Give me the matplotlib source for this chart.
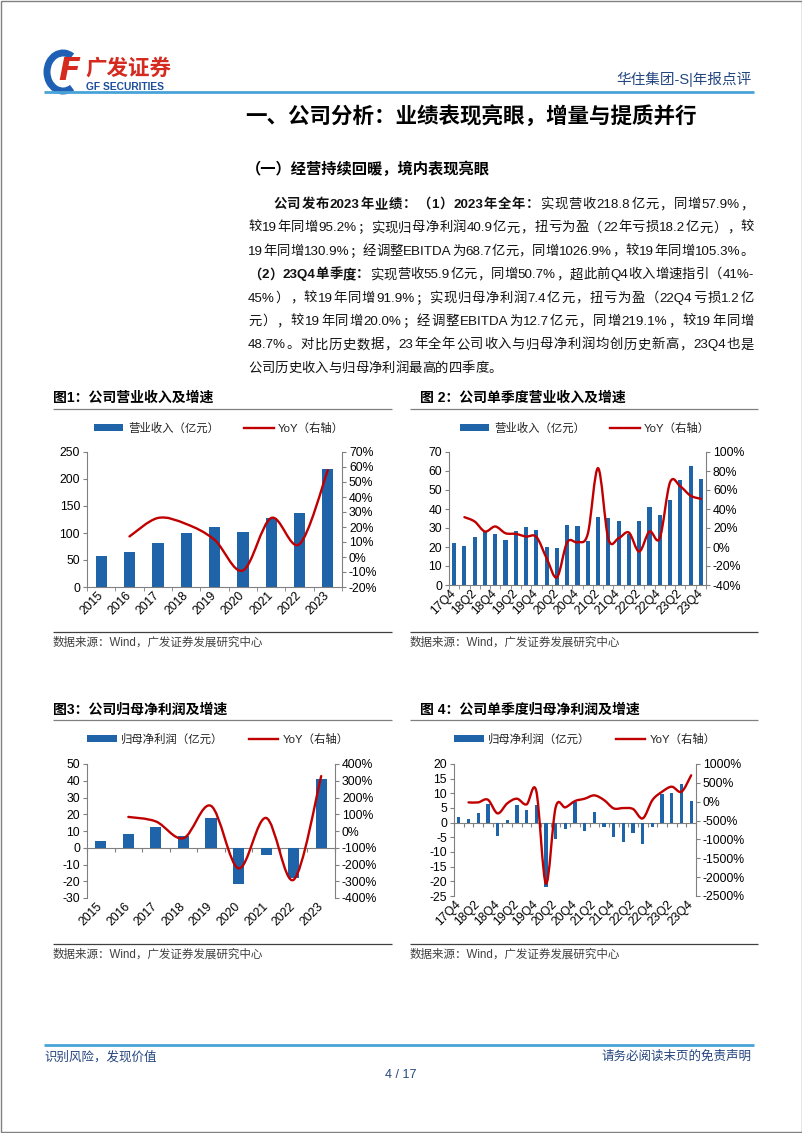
import re
import numpy as np
import matplotlib
matplotlib.use('Agg')
import matplotlib.pyplot as plt
from matplotlib.patches import Patch, PathPatch, Arc, Rectangle
from matplotlib.lines import Line2D
from matplotlib.path import Path

plt.rcParams['font.family'] = ['Liberation Sans', 'Noto Sans CJK SC', 'DejaVu Sans']
plt.rcParams['axes.unicode_minus'] = False

W, H = 802, 1133
BLUE = '#1f63a8'
RED = '#c00000'
GRAY = '#808080'
NAVY = '#24467f'
LINE_BLUE = '#4aa3d8'

# ---------------- data ----------------
years = ['2015', '2016', '2017', '2018', '2019', '2020', '2021', '2022', '2023']
revenue = [57.7, 65.1, 81.3, 99.9, 111.7, 101.1, 127.8, 137.7, 218.8]          # 亿元
revenue_yoy = [np.nan, 13.7, 26.0, 22.0, 11.5, -9.0, 26.0, 8.6, 57.9]          # %
profit = [4.3, 8.1, 12.4, 7.2, 17.5, -21.6, -4.3, -18.2, 40.9]                 # 亿元
profit_yoy = [np.nan, 84, 57, -43, 150, -223, 78, -291, 328]                   # %

quarters = ['17Q4', '18Q1', '18Q2', '18Q3', '18Q4', '19Q1', '19Q2', '19Q3', '19Q4',
            '20Q1', '20Q2', '20Q3', '20Q4', '21Q1', '21Q2', '21Q3', '21Q4',
            '22Q1', '22Q2', '22Q3', '22Q4', '23Q1', '23Q2', '23Q3', '23Q4']
q_revenue = [22.0, 20.7, 25.1, 27.8, 26.7, 23.7, 28.5, 30.4, 29.0, 20.2, 19.7, 31.5, 30.8,
             23.4, 35.9, 35.3, 33.6, 27.0, 33.6, 40.8, 36.9, 44.6, 55.4, 62.7, 55.9]
q_revenue_yoy = [np.nan, 31.4, 26.8, 16.3, 21.6, 14.5, 13.8, 11.0, 10.6, -11.9, -31.9, 5.0, 5.0,
                 13.8, 83.0, 8.5, 9.2, 15.2, -4.8, 16.3, 9.2, 68.0, 63.8, 54.0, 50.7]
q_profit = [2.0, 1.1, 3.2, 6.5, -4.4, 0.9, 6.0, 4.2, 6.0, -21.8, -5.7, -2.3, 6.9,
            -2.7, 3.75, -1.6, -4.8, -6.5, -3.6, -7.4, -1.4, 9.8, 10.0, 13.2, 7.4]
q_profit_yoy = [np.nan, -18, -18, 53, -309, -44, 80, -71, 283, -2173, -150, -150, 18,
                80, 168, 44, -177, -168, -194, -442, 44, 265, 398, 265, 700]

para_lines = [
    [('公司发布2023年业绩：（1）2023年全年：', True), ('实现营收218.8亿元，同增57.9%，', False)],
    [('较19年同增95.2%；实现归母净利润40.9亿元，扭亏为盈（22年亏损18.2亿元），较', False)],
    [('19年同增130.9%；经调整EBITDA为68.7亿元，同增1026.9%，较19年同增105.3%。', False)],
    [('（2）23Q4单季度：', True), ('实现营收55.9亿元，同增50.7%，超此前Q4收入增速指引（41%-', False)],
    [('45%），较19年同增91.9%；实现归母净利润7.4亿元，扭亏为盈（22Q4亏损1.2亿', False)],
    [('元），较19年同增20.0%；经调整EBITDA为12.7亿元，同增219.1%，较19年同增', False)],
    [('48.7%。对比历史数据，23年全年公司收入与归母净利润均创历史新高，23Q4也是', False)],
    [('公司历史收入与归母净利润最高的四季度。', False)],
]

fig = plt.figure(figsize=(W / 100, H / 100), dpi=100)
page = fig.add_axes([0, 0, 1, 1], zorder=0)
page.set_xlim(0, W)
page.set_ylim(H, 0)
page.axis('off')
renderer = fig.canvas.get_renderer()


def hline(x0, x1, y, color, lw):
    page.plot([x0, x1], [y, y], color=color, lw=lw, solid_capstyle='butt')


def draw_line(x0, x1, y, runs, size, justify=True):
    # lay out token by token so that the line fills x0..x1 like Word's justify
    toks = []
    for s, bold in runs:
        for t in re.findall(r'[\x00-\x7f]+|.', s):
            toks.append((t, bold))
    arts, widths = [], []
    for t, bold in toks:
        a = page.text(0, y, t, fontsize=size, fontweight='bold' if bold else 'normal',
                      va='baseline', ha='left', color='#111111')
        arts.append(a)
        widths.append(a.get_window_extent(renderer).width)
    gap = (x1 - x0 - sum(widths)) / (len(toks) - 1) if justify else 0
    x = x0
    for a, w in zip(arts, widths):
        a.set_x(x)
        x += w + gap


def smooth_path(xs, ys):
    # excel style smoothed line (cubic bezier through the points)
    p = np.array([(x, y) for x, y in zip(xs, ys) if not np.isnan(y)], float)
    verts, codes = [p[0]], [Path.MOVETO]
    n = len(p)
    for i in range(n - 1):
        p0 = p[i - 1] if i > 0 else p[i]
        p3 = p[i + 2] if i + 2 < n else p[i + 1]
        verts += [p[i] + (p[i + 1] - p0) / 6, p[i + 1] - (p3 - p[i]) / 6, p[i + 1]]
        codes += [Path.CURVE4] * 3
    return Path(verts, codes)


def combo_chart(rect, cats, bars, yoy, bar_name, ylim, ystep, rlim, rstep, width, every, legend_c):
    l, t, r, b = rect
    ax = fig.add_axes([l / W, 1 - b / H, (r - l) / W, (b - t) / H])
    ax.set_facecolor('none')
    x = np.arange(len(cats))
    ax.bar(x, bars, width=width, color=BLUE, zorder=2)
    ax.set_xlim(-0.5, len(cats) - 0.5)
    ax.set_ylim(*ylim)
    ax.set_yticks(np.arange(ylim[0], ylim[1] + ystep / 2, ystep))
    for s in ['top', 'right']:
        ax.spines[s].set_visible(False)
    ax.spines['left'].set_color(GRAY)
    ax.tick_params(axis='y', direction='out', length=3, color=GRAY, labelsize=8.8, pad=2)
    ax.set_xticks(x[::every])
    ax.set_xticklabels(cats[::every], rotation=45, ha='right', va='center',
                       rotation_mode='anchor', fontsize=8.8)
    ax.tick_params(axis='x', which='major', length=0, pad=5)
    if ylim[0] < 0:
        ax.spines['bottom'].set_visible(False)
        sec = ax.secondary_xaxis(-ylim[0] / (ylim[1] - ylim[0]))
        sec.set_alignment('bottom')
        sec.set_xticks(np.arange(-0.5, len(cats), 1))
        sec.set_xticklabels([])
        sec.spines['bottom'].set_color(GRAY)
        sec.tick_params(length=3, color=GRAY, direction='out')
    else:
        ax.spines['bottom'].set_color(GRAY)
        ax.set_xticks(np.arange(-0.5, len(cats), 1), minor=True)
        ax.tick_params(axis='x', which='minor', length=3, color=GRAY)

    ax2 = ax.twinx()
    ax2.set_ylim(*rlim)
    rt = np.arange(rlim[0], rlim[1] + rstep / 2, rstep)
    ax2.set_yticks(rt)
    ax2.set_yticklabels([f'{v:g}%' for v in rt])
    for s in ['top', 'left', 'bottom']:
        ax2.spines[s].set_visible(False)
    ax2.spines['right'].set_color(GRAY)
    ax2.tick_params(axis='y', direction='out', length=3, color=GRAY, labelsize=8.8, pad=2)
    ax2.add_patch(PathPatch(smooth_path(x, yoy), fill=False, edgecolor=RED, lw=1.7,
                            capstyle='round', joinstyle='round'))

    handles = [Patch(facecolor=BLUE, edgecolor='none'), Line2D([], [], color=RED, lw=1.7)]
    fig.legend(handles, [bar_name, 'YoY（右轴）'], loc='center',
               bbox_to_anchor=(legend_c[0] / W, 1 - legend_c[1] / H), ncol=2, frameon=False,
               fontsize=8.2, handlelength=2.6, handleheight=0.5, handletextpad=0.4,
               columnspacing=2.2, labelcolor='#222222')
    return ax, ax2


# ---------------- page furniture ----------------
page.add_patch(Rectangle((0.5, 0.5), W - 1, H - 1.5, fill=False, edgecolor='#808080', lw=1))
page.add_patch(Arc((63, 72), 32, 38, theta1=60, theta2=300, color='#1f5fb4', lw=5))
page.text(69, 71, 'F', color='#d42a1f', fontsize=23, fontweight='bold', fontstyle='italic',
          ha='center', va='center', family='DejaVu Sans')
page.text(85, 68, '广发证券', color='#d42a1f', fontsize=15.5, fontweight='bold', va='center',
          family=['Noto Sans CJK SC'])
page.text(86, 86.5, 'GF SECURITIES', color='#1c4e9c', fontsize=7.4, fontweight='bold',
          va='center')
page.text(752, 79, '华住集团-S|年报点评', color=NAVY, fontsize=10.5, ha='right', va='center')
hline(44, 754, 92, LINE_BLUE, 2)

page.text(245, 117, '一、公司分析：业绩表现亮眼，增量与提质并行', fontsize=15.5, fontweight='bold',
          va='center')
page.text(246, 169, '（一）经营持续回暖，境内表现亮眼', fontsize=11, fontweight='bold', va='center')

line_y = 208
for i, runs in enumerate(para_lines):
    x0 = 273 if i == 0 else 248
    draw_line(x0, 754, line_y + i * 23.4, runs, 9.6, justify=i < len(para_lines) - 1)

titles = [(53, 398, '图1：公司营业收入及增速'), (420, 398, '图 2：公司单季度营业收入及增速'),
          (53, 710, '图3：公司归母净利润及增速'), (420, 710, '图 4：公司单季度归母净利润及增速')]
for x, y, s in titles:
    page.text(x, y, s, fontsize=10, fontweight='bold', va='center')
for x0, x1, yt, ys in [(53, 392, 409, 632), (410, 758, 409, 632),
                       (53, 392, 720, 944), (410, 758, 720, 944)]:
    hline(x0, x1, yt, GRAY, 0.9)
    hline(x0, x1, ys, '#404040', 0.9)
    page.text(x0 if x0 > 100 else 53, ys + 11, '数据来源：Wind，广发证券发展研究中心',
              fontsize=8.3, color='#404040', va='center')

hline(44, 754, 1045, LINE_BLUE, 2)
page.text(44, 1057, '识别风险，发现价值', fontsize=9, color=NAVY, va='center')
page.text(752, 1057, '请务必阅读末页的免责声明', fontsize=9, color=NAVY, va='center', ha='right')
page.text(401, 1075, '4 / 17', fontsize=9, color=NAVY, va='center', ha='center')

# ---------------- the four charts ----------------
combo_chart((87, 452, 342, 587), years, revenue, revenue_yoy, '营业收入（亿元）',
            (0, 250), 50, (-20, 70), 10, 0.4, 1, (219, 428))
combo_chart((449, 452, 706, 585), quarters, q_revenue, q_revenue_yoy, '营业收入（亿元）',
            (0, 70), 10, (-40, 100), 20, 0.4, 2, (585, 428))
combo_chart((87, 764, 335, 898), years, profit, profit_yoy, '归母净利润（亿元）',
            (-30, 50), 10, (-400, 400), 100, 0.4, 1, (218, 739))
combo_chart((454, 764, 696, 896), quarters, q_profit, q_profit_yoy, '归母净利润（亿元）',
            (-25, 20), 5, (-2500, 1000), 500, 0.34, 2, (585, 739))

fig.savefig('out.png', dpi=100)
